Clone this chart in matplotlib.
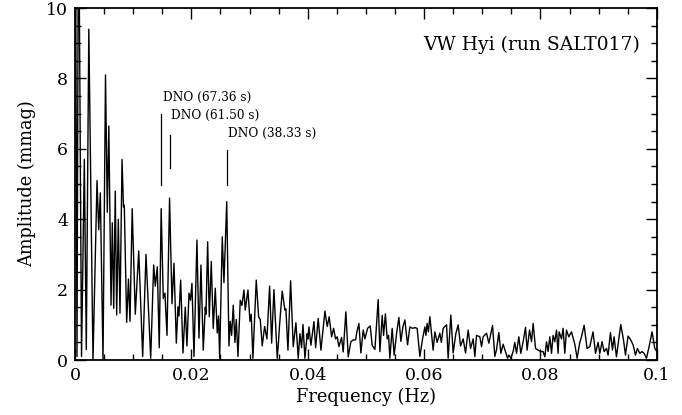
import numpy as np
import matplotlib
matplotlib.use("Agg")
import matplotlib.pyplot as plt
from matplotlib.ticker import MultipleLocator

# amplitude spectrum: (frequency in mHz, amplitude in mmag)
spectrum = [
    (0.05, 14.0), (0.34, 0.1), (0.60, 14.0), (1.12, 0.1), (1.60, 5.7), (1.94, 0.3),
    (2.37, 9.4), (3.09, 0.0), (3.78, 5.1), (4.07, 3.7), (4.35, 4.75), (4.81, 0.0),
    (5.24, 8.1), (5.55, 4.2), (5.81, 6.65), (6.19, 1.56), (6.41, 3.9), (6.65, 1.47),
    (6.92, 4.8), (7.16, 1.28), (7.44, 4.0), (7.73, 1.33), (8.08, 5.7), (8.33, 4.35),
    (8.47, 4.4), (8.88, 1.07), (9.19, 2.3), (9.45, 1.1), (9.83, 4.3), (10.36, 1.3),
    (10.95, 3.1), (11.63, 0.1), (12.20, 3.0), (13.01, 0.05), (13.52, 2.7), (13.80, 2.1),
    (14.14, 2.65), (14.48, 0.35), (14.81, 4.3), (15.17, 1.75), (15.46, 1.9), (15.81, 0.7),
    (16.25, 4.6), (16.67, 1.6), (17.01, 2.75), (17.41, 0.48), (17.70, 1.51), (17.87, 1.25),
    (18.16, 2.27), (18.56, 0.2), (18.95, 1.5), (19.24, 0.4), (19.59, 1.9), (19.85, 1.7),
    (20.10, 2.18), (20.45, 0.1), (20.96, 3.41), (21.31, 0.62), (21.65, 2.7), (22.04, 0.28),
    (22.39, 1.5), (22.51, 1.3), (22.80, 3.36), (23.08, 1.23), (23.42, 2.8), (23.76, 0.9),
    (24.11, 2.04), (24.45, 0.77), (24.67, 1.25), (24.86, 0.05), (25.31, 3.5), (25.60, 2.2),
    (26.08, 4.5), (26.46, 0.4), (26.68, 1.1), (26.92, 0.7), (27.20, 1.56), (27.49, 0.5),
    (27.72, 1.15), (28.01, 0.1), (28.40, 1.7), (28.69, 1.55), (29.04, 1.99), (29.26, 1.42),
    (29.73, 1.99), (30.07, 1.1), (30.29, 1.3), (30.58, 0.05), (31.15, 2.27), (31.56, 1.23),
    (31.84, 1.15), (32.18, 0.4), (32.59, 0.95), (32.99, 0.6), (33.45, 2.1), (33.80, 0.48),
    (34.19, 2.0), (34.76, 0.05), (34.97, 0.5), (35.14, 0.95), (35.62, 1.96), (36.08, 1.42),
    (36.25, 1.45), (36.60, 0.28), (37.06, 2.25), (37.51, 0.38), (37.97, 1.06), (38.37, 0.05),
    (38.66, 0.75), (38.95, 0.35), (39.18, 1.01), (39.52, 0.05), (39.91, 0.75), (40.03, 0.6),
    (40.21, 0.94), (40.55, 0.42), (41.07, 1.09), (41.36, 0.35), (41.80, 1.18), (42.27, 0.28),
    (42.96, 1.39), (43.35, 0.95), (43.69, 1.23), (44.11, 0.66), (44.45, 0.9), (44.79, 0.6),
    (45.07, 0.66), (45.36, 0.38), (45.82, 0.64), (46.10, 0.23), (46.56, 1.37), (46.96, 0.09),
    (47.42, 0.52), (47.82, 0.57), (48.23, 0.57), (48.45, 0.8), (48.80, 1.04), (49.14, 0.2),
    (49.54, 0.85), (49.83, 0.6), (50.29, 0.9), (50.74, 0.97), (51.08, 0.42), (51.55, 0.3),
    (52.11, 1.72), (52.41, 0.24), (52.80, 1.27), (53.04, 0.7), (53.35, 1.31), (53.66, 0.6),
    (53.90, 0.7), (54.12, 0.05), (54.52, 0.9), (54.86, 0.14), (55.27, 0.75), (55.67, 1.21),
    (56.01, 0.53), (56.36, 0.94), (56.70, 1.14), (57.16, 0.43), (57.56, 0.94), (58.02, 0.9),
    (58.42, 0.92), (58.81, 0.9), (59.28, 0.1), (59.74, 0.6), (60.14, 0.94), (60.31, 0.7),
    (60.53, 1.04), (60.74, 0.8), (61.00, 1.23), (61.56, 0.28), (61.86, 0.8), (62.25, 0.5),
    (62.71, 0.76), (62.97, 0.5), (63.28, 0.9), (63.87, 1.0), (64.14, 0.05), (64.60, 1.28),
    (65.00, 0.2), (65.46, 0.75), (65.86, 1.0), (66.27, 0.4), (66.72, 0.6), (67.13, 0.2),
    (67.58, 0.85), (67.99, 0.33), (68.44, 0.6), (68.73, 0.1), (69.02, 0.7), (69.59, 0.66),
    (69.88, 0.38), (70.15, 0.66), (70.74, 0.76), (71.13, 0.48), (71.77, 0.98), (72.16, 0.1),
    (72.46, 0.3), (72.85, 0.78), (73.20, 0.19), (73.59, 0.45), (73.88, 0.3), (74.35, 0.05),
    (74.57, 0.14), (74.91, 0.05), (75.31, 0.24), (75.60, 0.5), (75.89, 0.19), (76.29, 0.66),
    (76.63, 0.19), (77.03, 0.52), (77.44, 0.93), (77.71, 0.28), (78.13, 0.85), (78.47, 0.52),
    (78.75, 1.04), (79.16, 0.33), (79.60, 0.28), (80.07, 0.24), (80.46, 0.24), (80.76, 0.09),
    (81.05, 0.52), (81.32, 0.24), (81.62, 0.66), (81.91, 0.19), (82.18, 0.7), (82.47, 0.52),
    (82.77, 0.85), (83.04, 0.19), (83.21, 0.8), (83.63, 0.6), (83.90, 0.9), (84.19, 0.19),
    (84.48, 0.85), (84.88, 0.66), (85.34, 0.8), (85.91, 0.45), (86.31, 0.05), (86.77, 0.5),
    (87.06, 0.66), (87.51, 0.99), (88.02, 0.33), (88.49, 0.38), (89.05, 0.8), (89.47, 0.19),
    (89.91, 0.5), (90.21, 0.19), (90.60, 0.52), (90.95, 0.24), (91.36, 0.33), (91.63, 0.14),
    (92.04, 0.78), (92.39, 0.28), (92.66, 0.66), (93.07, 0.09), (93.81, 1.01), (94.28, 0.57),
    (94.62, 0.14), (95.07, 0.68), (95.53, 0.57), (95.93, 0.43), (96.34, 0.14), (96.68, 0.33),
    (97.08, 0.19), (97.47, 0.24), (97.82, 0.19), (98.23, 0.05), (98.68, 0.38), (99.19, 0.8),
    (99.66, 0.33), (100.0, 0.24),
]

# DNO markers: period (s), bottom/top of the tick mark (mmag), label height
dno_period = [67.36, 61.50, 38.33]
dno_ybot = [4.97, 5.45, 4.98]
dno_ytop = [6.98, 6.4, 5.98]
dno_text_y = [7.47, 6.96, 6.45]

freq_mhz, amp = zip(*spectrum)
freq = np.array(freq_mhz) / 1000.0

plt.rcParams['font.family'] = ['DejaVu Serif']

fig = plt.figure(figsize=(6.82, 4.15), dpi=100)
ax = fig.add_axes([0.110, 0.1325, 0.853, 0.848])

ax.plot(freq, amp, color='black', lw=1.0)

for p, yb, yt, ty in zip(dno_period, dno_ybot, dno_ytop, dno_text_y):
    f = 1.0 / p
    ax.plot([f, f], [yb, yt], color='black', lw=0.9)
    ax.text(f + 0.0002, ty, 'DNO (%.2f s)' % p, fontsize=8.7,
            ha='left', va='center')

ax.text(0.971, 0.895, 'VW Hyi (run SALT017)', transform=ax.transAxes,
        fontsize=13.5, ha='right', va='center')

ax.set_xlim(0, 0.1)
ax.set_ylim(0, 10)
ax.xaxis.set_minor_locator(MultipleLocator(0.005))
ax.yaxis.set_major_locator(MultipleLocator(2))
ax.yaxis.set_minor_locator(MultipleLocator(0.5))
ax.set_xticks([0, 0.02, 0.04, 0.06, 0.08, 0.1])
ax.set_xticklabels(['0', '0.02', '0.04', '0.06', '0.08', '0.1'])
ax.tick_params(which='both', direction='in', top=True, right=True,
               labelsize=12.5, width=1.0)
ax.tick_params(which='major', length=8, pad=5)
ax.tick_params(which='minor', length=4)
for s in ax.spines.values():
    s.set_linewidth(1.3)

ax.set_xlabel('Frequency (Hz)', fontsize=12.8, labelpad=3)
ax.set_ylabel('Amplitude (mmag)', fontsize=12.8, labelpad=7)

fig.savefig('out.png', dpi=100)
